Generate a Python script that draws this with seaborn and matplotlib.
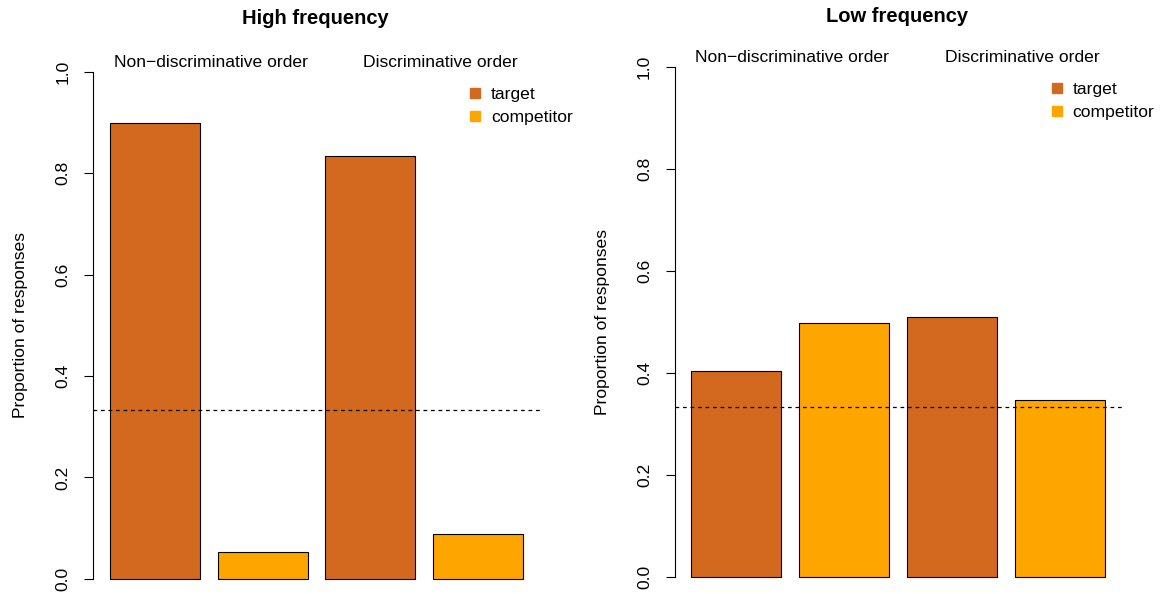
import numpy as np
import pandas as pd
import matplotlib
matplotlib.use('Agg')
import matplotlib.pyplot as plt
import seaborn as sns
from matplotlib.lines import Line2D

# data
bars = ['nd_target', 'nd_competitor', 'd_target', 'd_competitor']
responses = ['target', 'competitor', 'target', 'competitor']
high_freq = [0.900, 0.053, 0.834, 0.088]
low_freq = [0.404, 0.498, 0.510, 0.348]
chance = 1 / 3
group_labels = ['Non\u2212discriminative order', 'Discriminative order']
panel_titles = ['High frequency', 'Low frequency']

colors = {'target': '#D2691E', 'competitor': '#FFA500'}

sns.set_style('white')
plt.rcParams['font.family'] = ['Liberation Sans', 'DejaVu Sans']
plt.rcParams['text.color'] = 'black'
plt.rcParams['axes.labelcolor'] = 'black'
plt.rcParams['ytick.color'] = 'black'

fig = plt.figure(figsize=(11.6, 5.94), dpi=100)
ax1 = fig.add_axes([93 / 1160, -5 / 594, 447 / 1160, (599 - 51.7) / 594])
ax2 = fig.add_axes([674.5 / 1160, -3.4 / 594, 447 / 1160, (597.4 - 46.6) / 594])

fs = 12.6
for ax, vals, title, tx, ty in zip([ax1, ax2], [high_freq, low_freq], panel_titles,
                                   [315, 897], [19, 16]):
    df = pd.DataFrame({'bar': bars, 'response': responses, 'prop': vals})
    sns.barplot(data=df, x='bar', y='prop', hue='response', palette=colors,
                dodge=False, width=1 / 1.2, edgecolor='black', linewidth=0.8,
                saturation=1, legend=False, ax=ax)
    ax.axhline(chance, color='black', linestyle=(0, (3, 3)), linewidth=0.9)
    ax.set_xlim(-0.57, 3.57)
    ax.set_ylim(-0.04, 1.04)
    ax.set_yticks([0, 0.2, 0.4, 0.6, 0.8, 1.0])
    ax.set_yticklabels(['0.0', '0.2', '0.4', '0.6', '0.8', '1.0'], rotation=90,
                       va='center', fontsize=fs)
    ax.tick_params(axis='y', left=True, length=6.5, width=0.8, pad=9.7, color='black')
    ax.set_xticks([])
    ax.set_xlabel('')
    ax.set_ylabel('Proportion of responses', fontsize=fs, labelpad=19.7)
    for s in ['top', 'right', 'bottom']:
        ax.spines[s].set_visible(False)
    ax.spines['left'].set_bounds(0, 1)
    ax.spines['left'].set_color('black')
    ax.spines['left'].set_linewidth(0.8)
    ax.patch.set_alpha(0)

    ax.text(0.52, 1.018, group_labels[0], ha='center', va='center', fontsize=fs)
    ax.text(2.65, 1.018, group_labels[1], ha='center', va='center', fontsize=fs)
    fig.text(tx / 1160, 1 - ty / 594, title, ha='center', va='center',
             fontsize=14.5, fontweight='bold')

    handles = [Line2D([], [], marker='s', linestyle='', color=colors[r], markersize=7)
               for r in ['target', 'competitor']]
    ax.legend(handles, ['target', 'competitor'], loc='upper left',
              bbox_to_anchor=(0.84, 0.936), frameon=False, fontsize=fs,
              handlelength=0.8, handletextpad=0.5, labelspacing=0.45,
              borderpad=0, borderaxespad=0)

fig.savefig('out.png', dpi=100)
